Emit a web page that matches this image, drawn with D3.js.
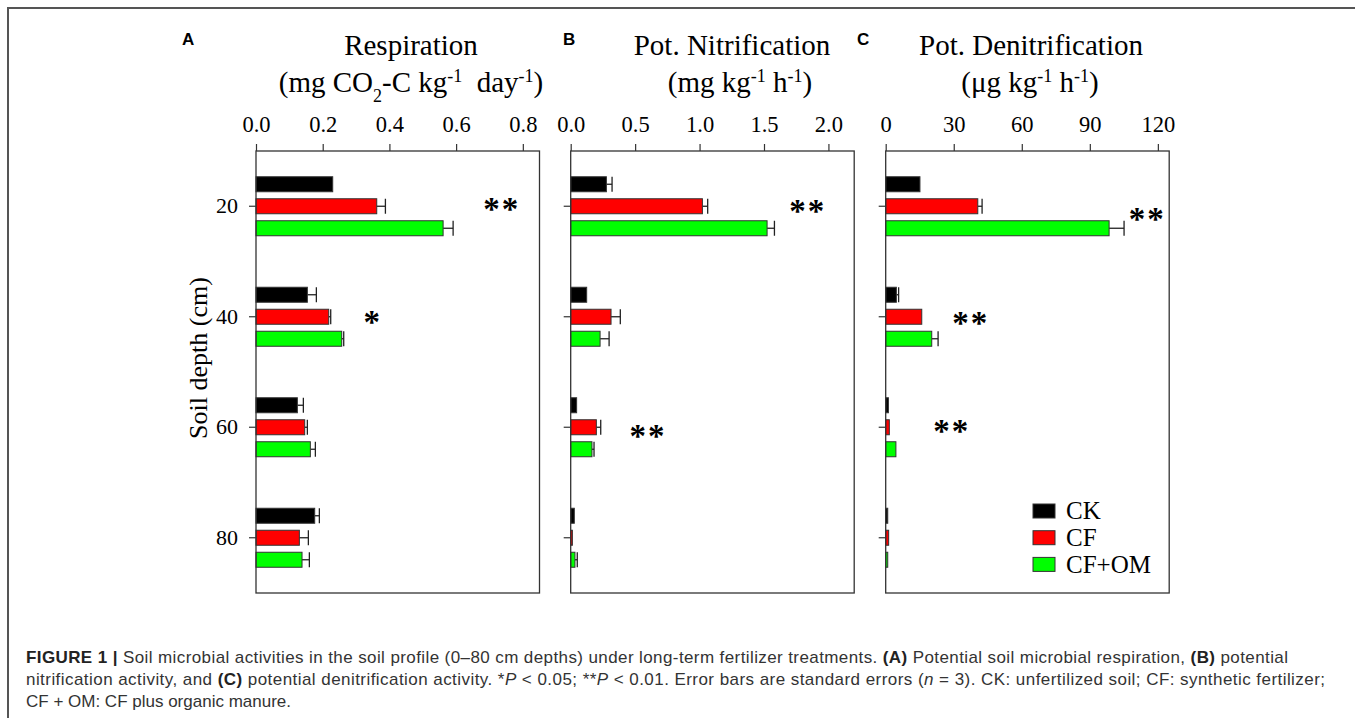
<!DOCTYPE html>
<html>
<head>
<meta charset="utf-8">
<title>Soil microbial activities</title>
<script src="https://d3js.org/d3.v7.min.js"></script>
<style>
    body { margin: 0; background: #fff; }
    svg text { font-family: "Liberation Serif", "Times New Roman", serif; fill: #000; }
    .cap { font-family: "Liberation Sans", Arial, sans-serif; font-size: 17px; fill: #333; }
    .letter { font-family: "Liberation Sans", Arial, sans-serif; font-weight: bold; font-size: 17px; }
</style>
</head>
<body>
<svg width="1355" height="718"></svg>
<script>
    // data
    var depths = [20, 40, 60, 80];
    var series = ["CK", "CF", "CF+OM"];
    var colors = ["#000000", "#ff0000", "#00ff00"];

    // (A) respiration
    var respCK = [0.230, 0.154, 0.124, 0.176];
    var respCKerr = [0, 0.027, 0.018, 0.014];
    var respCF = [0.362, 0.218, 0.146, 0.130];
    var respCFerr = [0.026, 0.006, 0.008, 0.027];
    var respOM = [0.561, 0.257, 0.163, 0.138];
    var respOMerr = [0.030, 0.006, 0.015, 0.022];
    var respTicks = [0, 0.2, 0.4, 0.6, 0.8];
    var respSig = [{depth: 20, mark: "**", at: 0.737}, {depth: 40.4, mark: "*", at: 0.35}];

    // (B) potential nitrification
    var nitCK = [0.277, 0.124, 0.046, 0.028];
    var nitCKerr = [0.044, 0, 0, 0];
    var nitCF = [1.022, 0.313, 0.199, 0.013];
    var nitCFerr = [0.041, 0.072, 0.034, 0];
    var nitOM = [1.524, 0.228, 0.165, 0.033];
    var nitOMerr = [0.057, 0.070, 0.016, 0.018];
    var nitTicks = [0, 0.5, 1.0, 1.5, 2.0];
    var nitSig = [{depth: 20.3, mark: "**", at: 1.84}, {depth: 61, mark: "**", at: 0.60}];

    // (C) potential denitrification
    var denCK = [15.1, 4.7, 1.2, 0.9];
    var denCKerr = [0, 1.0, 0, 0];
    var denCF = [40.6, 15.9, 1.6, 1.3];
    var denCFerr = [1.9, 0, 0, 0];
    var denOM = [98.5, 20.3, 4.5, 0.9];
    var denOMerr = [6.6, 2.8, 0, 0];
    var denTicks = [0, 30, 60, 90, 120];
    var denSig = [{depth: 21.8, mark: "**", at: 115.3}, {depth: 40.7, mark: "**", at: 37.5}, {depth: 60.2, mark: "**", at: 29.1}];

    var svg = d3.select("svg");

    // outer frame
    svg.append("rect")
        .attr("x", 8).attr("y", 8)
        .attr("width", 1400).attr("height", 800)
        .attr("fill", "none")
        .attr("stroke", "#555")
        .attr("stroke-width", 2);

    var plotTop = 151, plotBottom = 593, plotW = 283.5;
    var y = d3.scaleBand().domain(depths).range([plotTop, plotBottom]);
    var yMid = d3.scaleLinear()
        .domain([depths[0], depths[depths.length - 1]])
        .range([y(depths[0]) + y.bandwidth() / 2, y(depths[depths.length - 1]) + y.bandwidth() / 2]);
    var inner = d3.scalePoint().domain(series).range([-22, 22]);
    var barH = 15;

    var panels = [
        {letter: "A", left: 256, max: 0.85, ticks: respTicks, fmt: d3.format(".1f"),
         data: [[respCK, respCKerr], [respCF, respCFerr], [respOM, respOMerr]],
         sig: respSig, labels: true, lx: 182, t1x: 411, t2x: 411,
         title2: [["(mg CO"], ["2", "sub"], ["-C kg"], ["-1", "sup"], ["\u00a0 day"], ["-1", "sup"], [")"]],
         title1: "Respiration"},
        {letter: "B", left: 570.7, max: 2.2, ticks: nitTicks, fmt: d3.format(".1f"),
         data: [[nitCK, nitCKerr], [nitCF, nitCFerr], [nitOM, nitOMerr]],
         sig: nitSig, labels: false, lx: 563, t1x: 732, t2x: 740,
         title2: [["(mg kg"], ["-1", "sup"], [" h"], ["-1", "sup"], [")"]],
         title1: "Pot. Nitrification"},
        {letter: "C", left: 885.7, max: 125, ticks: denTicks, fmt: d3.format("d"),
         data: [[denCK, denCKerr], [denCF, denCFerr], [denOM, denOMerr]],
         sig: denSig, labels: false, lx: 857, t1x: 1031, t2x: 1030,
         title2: [["(\u03bcg kg"], ["-1", "sup"], [" h"], ["-1", "sup"], [")"]],
         title1: "Pot. Denitrification"}
    ];

    panels.forEach(function(p) {
        var x = d3.scaleLinear().domain([0, p.max]).range([p.left, p.left + plotW]);
        var g = svg.append("g");

        // titles
        svg.append("text").attr("class", "letter")
            .attr("x", p.lx).attr("y", 45).text(p.letter);
        svg.append("text")
            .attr("x", p.t1x).attr("y", 55)
            .attr("text-anchor", "middle")
            .style("font-size", "29px")
            .text(p.title1);
        var t2 = svg.append("text")
            .attr("x", p.t2x).attr("y", 92)
            .attr("text-anchor", "middle")
            .style("font-size", "29px");
        p.title2.forEach(function(s) {
            var ts = t2.append("tspan").text(s[0]);
            if (s[1] === "sup") ts.attr("baseline-shift", "super").style("font-size", "18px");
            if (s[1] === "sub") ts.attr("baseline-shift", "sub").style("font-size", "18px");
        });

        // top axis
        var ax = g.append("g")
            .attr("transform", "translate(0," + plotTop + ")")
            .call(d3.axisTop(x).tickValues(p.ticks).tickFormat(p.fmt).tickSize(7).tickPadding(12).tickSizeOuter(0));
        ax.select(".domain").remove();
        ax.selectAll("line").attr("stroke", "#333").attr("stroke-width", 1.2);
        ax.selectAll("text")
            .attr("font-family", null)
            .style("font-size", "22.5px")
            .attr("fill", "#000");

        // left axis
        var ay = g.append("g")
            .attr("transform", "translate(" + p.left + ",0)")
            .call(d3.axisLeft(y).tickSize(7).tickPadding(11).tickSizeOuter(0));
        ay.select(".domain").remove();
        ay.selectAll("line").attr("stroke", "#333").attr("stroke-width", 1.2);
        ay.selectAll("text")
            .attr("font-family", null)
            .style("font-size", "22px")
            .attr("fill", "#000")
            .style("display", p.labels ? null : "none");

        // bars
        p.data.forEach(function(s, si) {
            var name = series[si];
            var items = depths.map(function(d, i) { return {depth: d, v: s[0][i], e: s[1][i]}; });
            var cy = function(d) { return y(d.depth) + y.bandwidth() / 2 + inner(name); };

            var eb = g.append("g").selectAll("g")
                .data(items.filter(function(d) { return d.e > 0; }))
                .enter().append("g")
                .attr("stroke", "#222").attr("stroke-width", 1.3);
            eb.append("line")
                .attr("x1", function(d) { return x(d.v); })
                .attr("x2", function(d) { return x(d.v + d.e); })
                .attr("y1", cy).attr("y2", cy);
            eb.append("line")
                .attr("x1", function(d) { return x(d.v + d.e); })
                .attr("x2", function(d) { return x(d.v + d.e); })
                .attr("y1", function(d) { return cy(d) - barH / 2; })
                .attr("y2", function(d) { return cy(d) + barH / 2; });

            g.append("g").selectAll("rect")
                .data(items)
                .enter().append("rect")
                .attr("x", x(0))
                .attr("y", function(d) { return cy(d) - barH / 2; })
                .attr("width", function(d) { return x(d.v) - x(0); })
                .attr("height", barH)
                .attr("fill", colors[si])
                .attr("stroke", "#333")
                .attr("stroke-width", 1);
        });

        // significance marks
        g.selectAll(".sig")
            .data(p.sig)
            .enter().append("text")
            .attr("class", "sig")
            .attr("x", function(d) { return x(d.at); })
            .attr("y", function(d) { return yMid(d.depth); })
            .attr("dy", "0.42em")
            .attr("text-anchor", "middle")
            .style("font-size", "33px")
            .style("font-weight", "bold")
            .style("letter-spacing", "2px")
            .text(function(d) { return d.mark; });

        // frame
        g.append("rect")
            .attr("x", p.left).attr("y", plotTop)
            .attr("width", plotW).attr("height", plotBottom - plotTop)
            .attr("fill", "none")
            .attr("stroke", "#333")
            .attr("stroke-width", 1.3);
    });

    // y axis title
    svg.append("text")
        .attr("transform", "translate(198,358) rotate(-90)")
        .attr("text-anchor", "middle")
        .attr("dy", "0.35em")
        .style("font-size", "26px")
        .text("Soil depth (cm)");

    // legend
    var leg = svg.append("g").selectAll("g")
        .data(series)
        .enter().append("g")
        .attr("transform", function(d, i) { return "translate(1033," + (511 + i * 26.7) + ")"; });
    leg.append("rect")
        .attr("x", 0).attr("y", -7)
        .attr("width", 22).attr("height", 14)
        .attr("fill", function(d, i) { return colors[i]; })
        .attr("stroke", "#333");
    leg.append("text")
        .attr("x", 33).attr("dy", "0.33em")
        .style("font-size", "25px")
        .text(function(d) { return d; });

    // caption
    var c1 = svg.append("text").attr("class", "cap").attr("x", 26).attr("y", 663)
        .attr("textLength", 1262).attr("lengthAdjust", "spacing");
    c1.append("tspan").style("font-weight", "bold").style("fill", "#222").text("FIGURE 1 | ");
    c1.append("tspan").text("Soil microbial activities in the soil profile (0\u201380 cm depths) under long-term fertilizer treatments. ");
    c1.append("tspan").style("font-weight", "bold").style("fill", "#222").text("(A)");
    c1.append("tspan").text(" Potential soil microbial respiration, ");
    c1.append("tspan").style("font-weight", "bold").style("fill", "#222").text("(B)");
    c1.append("tspan").text(" potential");

    var c2 = svg.append("text").attr("class", "cap").attr("x", 26).attr("y", 685)
        .attr("textLength", 1299).attr("lengthAdjust", "spacing");
    c2.append("tspan").text("nitrification activity, and ");
    c2.append("tspan").style("font-weight", "bold").style("fill", "#222").text("(C)");
    c2.append("tspan").text(" potential denitrification activity. *");
    c2.append("tspan").style("font-style", "italic").text("P");
    c2.append("tspan").text(" < 0.05; **");
    c2.append("tspan").style("font-style", "italic").text("P");
    c2.append("tspan").text(" < 0.01. Error bars are standard errors (");
    c2.append("tspan").style("font-style", "italic").text("n");
    c2.append("tspan").text(" = 3). CK: unfertilized soil; CF: synthetic fertilizer;");

    svg.append("text").attr("class", "cap").attr("x", 26).attr("y", 707)
        .text("CF + OM: CF plus organic manure.");
</script>
</body>
</html>
